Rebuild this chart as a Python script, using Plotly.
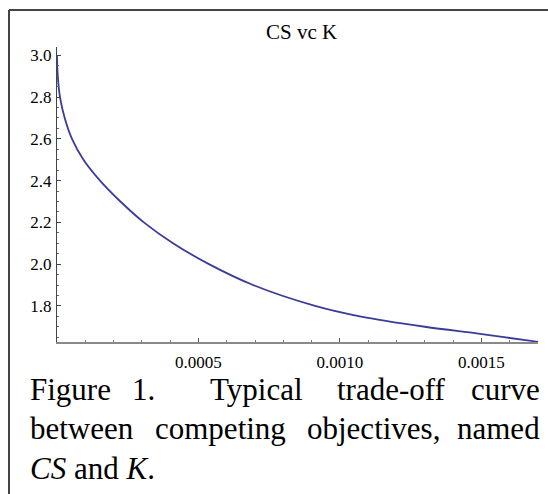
import plotly.graph_objects as go

# ---- data ----
K_vals = [0.0, 0.0000028, 0.0000106, 0.0000272, 0.000053, 0.0000936, 0.000152, 0.000224,
          0.000307, 0.00041, 0.000537, 0.000693, 0.000912, 0.00107, 0.0013,
          0.001483, 0.00158, 0.0017]
CS_vals = [3.0, 2.90, 2.80, 2.70, 2.60, 2.50, 2.40, 2.30,
           2.20, 2.10, 2.00, 1.90, 1.80, 1.75, 1.70,
           1.668, 1.65, 1.628]

x_tick_vals = [0.0005, 0.0010, 0.0015]
x_tick_text = ["0.0005", "0.0010", "0.0015"]
y_tick_vals = [1.8, 2.0, 2.2, 2.4, 2.6, 2.8, 3.0]
y_tick_text = ["1.8", "2.0", "2.2", "2.4", "2.6", "2.8", "3.0"]

title_text = "CS vc K"
caption_line1 = ["Figure", "1.", "Typical", "trade-off", "curve"]
caption_line2 = ["between", "competing", "objectives,", "named"]
caption_line3 = "<i>CS</i> and <i>K</i>."

# ---- layout geometry (pixels) ----
W, H = 548, 494
L, R, T, B = 57, 538, 47, 342


def px(x):
    return (x - L) / (R - L)


def py(y):
    return (B - y) / (B - T)


SERIF = "Liberation Serif, Times New Roman, serif"

fig = go.Figure()
fig.add_trace(go.Scatter(x=K_vals, y=CS_vals, mode="lines",
                         line=dict(color="#3b3b9b", width=1.8, shape="spline", smoothing=1.0),
                         showlegend=False, hoverinfo="skip"))

fig.update_layout(
    width=W, height=H,
    margin=dict(l=L, r=W - R, t=T, b=H - B, pad=0),
    paper_bgcolor="white", plot_bgcolor="white",
    font=dict(family=SERIF, color="black"),
    xaxis=dict(range=[0, 0.0017], showgrid=False, zeroline=False,
               showline=True, linecolor="#8a8a8a", linewidth=1.5,
               ticks="inside", ticklen=4, tickcolor="#555", tickwidth=1,
               tickmode="array", tickvals=x_tick_vals, ticktext=x_tick_text,
               tickfont=dict(family=SERIF, size=17, color="black"),
               ticklabelstandoff=4,
               minor=dict(ticks="inside", ticklen=2, tickcolor="#777",
                          tickmode="linear", tick0=0, dtick=0.0001)),
    yaxis=dict(range=[1.627, 3.04], showgrid=False, zeroline=False,
               showline=True, linecolor="#444", linewidth=1,
               ticks="inside", ticklen=4, tickcolor="#444", tickwidth=1,
               tickmode="array", tickvals=y_tick_vals, ticktext=y_tick_text,
               tickfont=dict(family=SERIF, size=17, color="black"),
               ticklabelstandoff=1,
               minor=dict(ticks="inside", ticklen=2, tickcolor="#666",
                          tickmode="linear", tick0=0, dtick=0.05)),
)

# outer frame (left and top edges)
frame = dict(color="#444", width=2)
fig.add_shape(type="line", xref="paper", yref="paper",
              x0=px(9), x1=px(9), y0=py(10), y1=py(500), line=frame)
fig.add_shape(type="line", xref="paper", yref="paper",
              x0=px(9), x1=px(552), y0=py(10), y1=py(10), line=frame)
# y-axis stub below the x-axis
fig.add_shape(type="line", xref="x", yref="y", ysizemode="pixel", yanchor=1.627,
              x0=0, x1=0, y0=0, y1=-7, line=dict(color="#444", width=1))

# title
fig.add_annotation(text=title_text, xref="paper", yref="paper", x=px(301), y=py(32),
                   xanchor="center", yanchor="middle", showarrow=False,
                   font=dict(family=SERIF, size=21, color="black"))

# caption, justified word by word
cap_font = dict(family=SERIF, size=31, color="black")
line1_x = [28, 130, 208, 335, 542]
line2_x = [28, 153, 305, 542]
for words, xs, yc in ((caption_line1, line1_x, 389), (caption_line2, line2_x, 428)):
    for i, (w, xx) in enumerate(zip(words, xs)):
        last = i == len(words) - 1
        fig.add_annotation(text=w, xref="paper", yref="paper", x=px(xx), y=py(yc),
                           xanchor="right" if last else "left", yanchor="middle",
                           showarrow=False, font=cap_font)
fig.add_annotation(text=caption_line3, xref="paper", yref="paper", x=px(28), y=py(468),
                   xanchor="left", yanchor="middle", showarrow=False, font=cap_font)

fig.write_html("out.html", config={"displayModeBar": False},
               post_script="document.body.style.margin='0';")
